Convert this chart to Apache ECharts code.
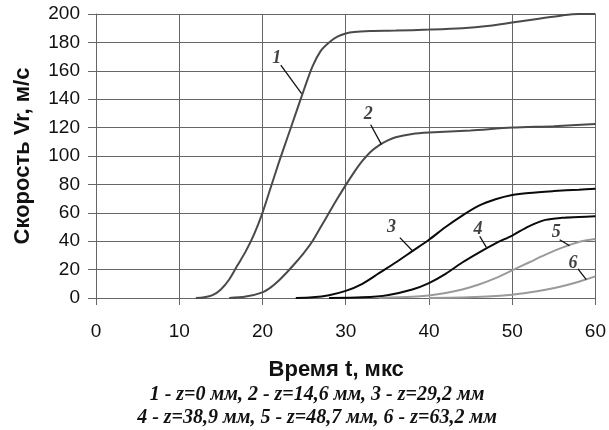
<!DOCTYPE html>
<html>
<head>
<meta charset="utf-8">
<script src="https://cdn.jsdelivr.net/npm/echarts@6/dist/echarts.min.js"></script>
<style>
  html, body { margin: 0; padding: 0; background: #fff; }
  #chart { width: 609px; height: 430px; }
</style>
</head>
<body>
<div id="chart"></div>
<script>
// Radial velocity Vr versus time t at six axial positions z
const xTicks = [0, 10, 20, 30, 40, 50, 60];
const yTicks = [0, 20, 40, 60, 80, 100, 120, 140, 160, 180, 200];

const curveNames = ['1', '2', '3', '4', '5', '6'];
const captionLines = [
  '1 - z=0 мм, 2 - z=14,6 мм, 3 - z=29,2 мм',
  '4 - z=38,9 мм, 5 - z=48,7 мм, 6 - z=63,2 мм'
];

// z = 0 mm
const t1 = [12, 13, 14, 15, 16, 17, 18, 19, 20, 21, 22, 23, 24, 25, 26, 27, 28, 29, 30, 31, 33, 36, 40, 44, 47, 50, 53, 56, 58, 60];
const v1 = [0, 0.5, 2, 6, 13, 23, 33, 45, 60, 78, 96, 113, 130, 147, 163, 174, 180, 184, 186.3, 187.4, 188, 188.3, 189, 190, 191.5, 194, 196.5, 199, 200, 200];
// z = 14.6 mm
const t2 = [16, 18, 20, 21, 22, 23, 24, 25, 26, 27, 28, 29, 30, 31, 32, 33, 34, 35, 36, 38, 40, 45, 50, 55, 60];
const v2 = [0, 1, 4, 7.5, 12.5, 18.5, 25, 32, 40, 50, 60, 70, 79.5, 88.5, 96.5, 103, 107.5, 110.8, 113.2, 115.5, 116.5, 118, 120, 121, 122.5];
// z = 29.2 mm
const t3 = [24, 26, 28, 30, 32, 34, 36, 38, 40, 42, 44, 46, 48, 50, 52, 55, 58, 60];
const v3 = [0, 0.5, 2, 5, 10, 17.5, 25, 33, 41, 50, 58, 65, 69.5, 72.5, 74, 75.3, 76.3, 77];
// z = 38.9 mm
const t4 = [28, 32, 35, 38, 40, 42, 44, 46, 48, 50, 52, 54, 56, 58, 60];
const v4 = [0, 0.5, 2, 6, 10.5, 17, 25, 32, 38.5, 44, 50.5, 55, 56.5, 57, 57.5];
// z = 48.7 mm
const t5 = [34, 38, 40, 42, 44, 46, 48, 50, 52, 54, 56, 58, 60];
const v5 = [0, 0.8, 1.8, 3.5, 6, 9.5, 14, 19.5, 25, 30.5, 35.5, 39.5, 41.5];
// z = 63.2 mm
const t6 = [40, 44, 47, 50, 52, 54, 56, 58, 60];
const v6 = [0, 0.3, 1, 2.3, 3.8, 5.8, 8.3, 11.5, 15.2];

// Callout numbers: text anchor, leader start, leader end (t, Vr)
const calloutText  = [[21.7, 169], [32.7, 129], [35.5, 49.5], [45.9, 48], [55.3, 46], [57.3, 24.6]];
const leaderStart  = [[22.2, 164], [33.0, 122], [36.5, 42.5], [46.1, 43.5], [55.7, 41], [57.9, 20.5]];
const leaderEnd    = [[24.7, 144], [34.3, 108], [38.1, 32.8], [46.9, 35.6], [56.9, 36.8], [58.9, 12.9]];

const times = [t1, t2, t3, t4, t5, t6];
const speeds = [v1, v2, v3, v4, v5, v6];
const curveColors = ['#4a4a4a', '#4a4a4a', '#0a0a0a', '#0a0a0a', '#9a9a9a', '#9a9a9a'];

const zip = (a, b) => a.map((x, i) => [x, b[i]]);

const series = [];
times.forEach((t, i) => {
  series.push({
    name: curveNames[i],
    type: 'line',
    data: zip(t, speeds[i]),
    smooth: 0.3,
    showSymbol: false,
    lineStyle: { color: curveColors[i], width: 2 },
    z: 3
  });
});

leaderStart.forEach((p, i) => {
  series.push({
    type: 'line',
    data: [p, leaderEnd[i]],
    showSymbol: false,
    lineStyle: { color: '#111', width: 1.3 },
    z: 4,
    silent: true
  });
});

series.push({
  type: 'scatter',
  data: calloutText.map((p, i) => ({ value: p, name: curveNames[i] })),
  symbolSize: 0,
  label: {
    show: true,
    position: 'inside',
    formatter: p => p.name,
    fontFamily: '"Liberation Serif", "Times New Roman", serif',
    fontStyle: 'italic',
    fontWeight: 'bold',
    fontSize: 18,
    color: '#111'
  },
  z: 5,
  silent: true
});

const axisFont = { fontFamily: '"Liberation Sans", Arial, sans-serif', fontSize: 19, color: '#111' };
const gridLine = { color: '#666', width: 1 };

const chart = echarts.init(document.getElementById('chart'), null, { renderer: 'canvas' });
chart.setOption({
  backgroundColor: '#fff',
  animation: false,
  grid: { left: 96, right: 12, top: 14, bottom: 132, containLabel: false },
  xAxis: {
    type: 'value',
    min: xTicks[0],
    max: xTicks[xTicks.length - 1],
    interval: xTicks[1] - xTicks[0],
    name: 'Время t, мкс',
    nameLocation: 'middle',
    nameGap: 61,
    nameTextStyle: {
      fontFamily: '"Liberation Sans", Arial, sans-serif',
      fontWeight: 'bold', fontSize: 22, color: '#111',
      padding: [0, 19, 0, 0]
    },
    axisLine: { show: true, lineStyle: gridLine },
    axisTick: { show: true, length: 7, lineStyle: gridLine },
    axisLabel: Object.assign({ margin: 24 }, axisFont),
    splitLine: { show: true, lineStyle: gridLine }
  },
  yAxis: {
    type: 'value',
    min: yTicks[0],
    max: yTicks[yTicks.length - 1],
    interval: yTicks[1] - yTicks[0],
    name: 'Скорость Vr, м/с',
    nameLocation: 'middle',
    nameGap: 62,
    nameTextStyle: {
      fontFamily: '"Liberation Sans", Arial, sans-serif',
      fontWeight: 'bold', fontSize: 22, color: '#111'
    },
    axisLine: { show: true, lineStyle: gridLine },
    axisTick: { show: true, length: 8, lineStyle: gridLine },
    axisLabel: Object.assign({ margin: 16 }, axisFont),
    splitLine: { show: true, lineStyle: gridLine }
  },
  graphic: captionLines.map((txt, i) => ({
    type: 'text',
    x: 317,
    y: 395 + i * 23,
    style: {
      text: txt,
      textAlign: 'center',
      textVerticalAlign: 'middle',
      fill: '#111',
      font: 'italic bold 20px "Liberation Serif", "Times New Roman", serif'
    }
  })),
  series: series
});
</script>
</body>
</html>
